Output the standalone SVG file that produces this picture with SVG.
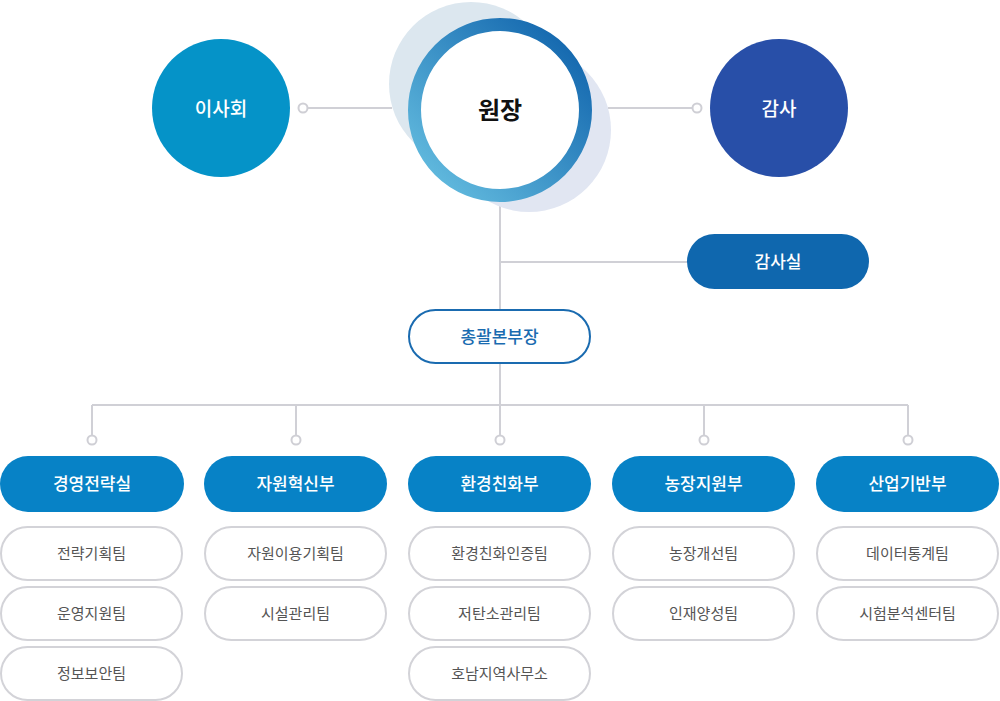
<svg xmlns="http://www.w3.org/2000/svg" width="1000" height="701" viewBox="0 0 1000 701">
<defs>
<linearGradient id="ring" x1="0" y1="1" x2="1" y2="0">
<stop offset="0" stop-color="#6ac3e3"/>
<stop offset="1" stop-color="#0b5ea9"/>
</linearGradient>
<style>
text{font-family:"Noto Sans CJK KR","Noto Sans",sans-serif;text-anchor:middle;dominant-baseline:central}
.line{stroke:#d0d0d6;stroke-width:2;fill:none}
.dot{fill:#fff;stroke:#cfcfd5;stroke-width:2}
.dept rect{fill:#0782c6}
.dept text{fill:#fff;font-size:17px;font-weight:500}
.team rect{fill:#fff;stroke:#d3d3d8;stroke-width:2}
.team text{fill:#555;font-size:15px}
.big{fill:#fff;font-size:19px;font-weight:500}
</style>
</defs>
<g id="connectors">
<path class="line" d="M303 108H392M608 108H697M500 205V310M500 262H690M500 363V405M92 405H908M92 405V435M296 405V435M500 405V435M704 405V435M908 405V435"/>
<circle class="dot" cx="303" cy="108" r="4.5"/>
<circle class="dot" cx="697" cy="108" r="4.5"/>
<circle class="dot" cx="92" cy="440" r="4.5"/>
<circle class="dot" cx="296" cy="440" r="4.5"/>
<circle class="dot" cx="500" cy="440" r="4.5"/>
<circle class="dot" cx="704" cy="440" r="4.5"/>
<circle class="dot" cx="908" cy="440" r="4.5"/>
</g>
<g id="director">
<circle cx="471" cy="84" r="82" fill="#dce7ef"/>
<circle cx="529" cy="130" r="82" fill="#e1e6f2"/>
<circle cx="500" cy="110" r="85.5" fill="#fff" stroke="url(#ring)" stroke-width="13"/>
<text x="500" y="108" fill="#111" font-size="24" font-weight="700">원장</text>
</g>
<g id="board">
<circle cx="221" cy="108" r="69" fill="#0593c8"/>
<text class="big" x="221" y="107">이사회</text>
</g>
<g id="audit">
<circle cx="779" cy="108" r="69" fill="#284fa8"/>
<text class="big" x="779" y="107">감사</text>
</g>
<g id="audit-office">
<rect x="687" y="234" width="182" height="55" rx="27.5" fill="#0f67ae"/>
<text x="778" y="260" fill="#fff" font-size="17" font-weight="500">감사실</text>
</g>
<g id="general">
<rect x="409" y="310" width="181" height="53" rx="26.5" fill="#fff" stroke="#1a6bb0" stroke-width="2"/>
<text x="499.5" y="335" fill="#1a6bb0" font-size="17" font-weight="500">총괄본부장</text>
</g>
<g id="dept1" class="dept"><rect x="0" y="456" width="184" height="56" rx="28"/><text x="92" y="482">경영전략실</text></g>
<g id="dept2" class="dept"><rect x="204" y="456" width="183" height="56" rx="28"/><text x="295.5" y="482">자원혁신부</text></g>
<g id="dept3" class="dept"><rect x="408" y="456" width="183" height="56" rx="28"/><text x="499.5" y="482">환경친화부</text></g>
<g id="dept4" class="dept"><rect x="612" y="456" width="183" height="56" rx="28"/><text x="703.5" y="482">농장지원부</text></g>
<g id="dept5" class="dept"><rect x="816" y="456" width="183" height="56" rx="28"/><text x="907.5" y="482">산업기반부</text></g>
<g id="team1a" class="team"><rect x="1" y="527" width="181" height="53" rx="26.5"/><text x="91.5" y="552">전략기획팀</text></g>
<g id="team1b" class="team"><rect x="1" y="587" width="181" height="53" rx="26.5"/><text x="91.5" y="612">운영지원팀</text></g>
<g id="team1c" class="team"><rect x="1" y="647" width="181" height="53" rx="26.5"/><text x="91.5" y="672">정보보안팀</text></g>
<g id="team2a" class="team"><rect x="205" y="527" width="181" height="53" rx="26.5"/><text x="295.5" y="552">자원이용기획팀</text></g>
<g id="team2b" class="team"><rect x="205" y="587" width="181" height="53" rx="26.5"/><text x="295.5" y="612">시설관리팀</text></g>
<g id="team3a" class="team"><rect x="409" y="527" width="181" height="53" rx="26.5"/><text x="499.5" y="552">환경친화인증팀</text></g>
<g id="team3b" class="team"><rect x="409" y="587" width="181" height="53" rx="26.5"/><text x="499.5" y="612">저탄소관리팀</text></g>
<g id="team3c" class="team"><rect x="409" y="647" width="181" height="53" rx="26.5"/><text x="499.5" y="672">호남지역사무소</text></g>
<g id="team4a" class="team"><rect x="613" y="527" width="181" height="53" rx="26.5"/><text x="703.5" y="552">농장개선팀</text></g>
<g id="team4b" class="team"><rect x="613" y="587" width="181" height="53" rx="26.5"/><text x="703.5" y="612">인재양성팀</text></g>
<g id="team5a" class="team"><rect x="817" y="527" width="181" height="53" rx="26.5"/><text x="907.5" y="552">데이터통계팀</text></g>
<g id="team5b" class="team"><rect x="817" y="587" width="181" height="53" rx="26.5"/><text x="907.5" y="612">시험분석센터팀</text></g>
</svg>
